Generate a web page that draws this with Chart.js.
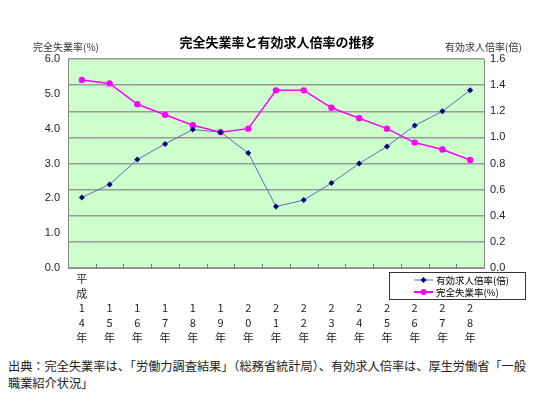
<!DOCTYPE html>
<html>
<head>
<meta charset="utf-8">
<script src="https://cdn.jsdelivr.net/npm/chart.js@4.4.1/dist/chart.umd.min.js"></script>
<style>
  body { margin: 0; background: #fff; width: 549px; height: 396px; overflow: hidden; }
  #wrap { position: relative; width: 549px; height: 350px; }
  #note { font-family: "Noto Sans CJK JP", sans-serif; font-size: 12.2px; color: #222; line-height: 17px; padding: 8px 0 0 8px; white-space: nowrap; }
</style>
</head>
<body>
<div id="wrap"><canvas id="c"></canvas></div>
<div id="note">出典：完全失業率は、「労働力調査結果」（総務省統計局）、有効求人倍率は、厚生労働省「一般<br>職業紹介状況」</div>
<script>
// data
const years = ['14', '15', '16', '17', '18', '19', '20', '21', '22', '23', '24', '25', '26', '27', '28'];
const jobRatio = [0.54, 0.64, 0.83, 0.95, 1.06, 1.04, 0.88, 0.47, 0.52, 0.65, 0.80, 0.93, 1.09, 1.20, 1.36];
const unemployment = [5.4, 5.3, 4.7, 4.4, 4.1, 3.9, 4.0, 5.1, 5.1, 4.6, 4.3, 4.0, 3.6, 3.4, 3.1];

// vertical labels, bottom aligned
const labels = years.map((y, i) => {
    const chars = y.split('').concat(['年']);
    return i === 0 ? ['平', '成'].concat(chars) : ['', ''].concat(chars);
});

const FONT = '"Noto Sans CJK JP", sans-serif';

const decor = {
    id: 'decor',
    beforeDraw(chart) {
        const a = chart.chartArea, ctx = chart.ctx;
        ctx.save();
        ctx.fillStyle = '#ccffcc';
        ctx.fillRect(a.left, a.top, a.right - a.left, a.bottom - a.top);
        ctx.restore();
    },
    afterDraw(chart) {
        const ctx = chart.ctx, a = chart.chartArea, x = chart.scales.x;
        ctx.save();
        // small ticks between categories
        ctx.strokeStyle = '#777';
        ctx.lineWidth = 1;
        for (let i = 1; i < years.length; i++) {
            const px = Math.round((x.getPixelForValue(i - 1) + x.getPixelForValue(i)) / 2) + 0.5;
            ctx.beginPath();
            ctx.moveTo(px, a.bottom);
            ctx.lineTo(px, a.bottom - 4);
            ctx.stroke();
        }
        // titles
        ctx.fillStyle = '#000';
        ctx.font = 'bold 13px ' + FONT;
        ctx.textAlign = 'center';
        ctx.textBaseline = 'middle';
        ctx.fillText('完全失業率と有効求人倍率の推移', 277, 42);
        ctx.fillStyle = '#333';
        ctx.font = '10px ' + FONT;
        ctx.textAlign = 'left';
        ctx.fillText('完全失業率(%)', 33, 47);
        ctx.fillText('有効求人倍率(倍)', 445, 47);
        // legend box
        const lx = 389, ly = 272, lw = 136, lh = 27;
        ctx.fillStyle = '#fff';
        ctx.fillRect(lx, ly, lw, lh);
        ctx.strokeStyle = '#333';
        ctx.strokeRect(lx + 0.5, ly + 0.5, lw, lh);
        const rows = [
            { text: '有効求人倍率(倍)', line: '#5b6fae', mark: '#000080', diamond: true, y: ly + 8 },
            { text: '完全失業率(%)', line: '#ff00ff', mark: '#ff00ff', diamond: false, y: ly + 20 }
        ];
        rows.forEach(r => {
            ctx.strokeStyle = r.line;
            ctx.lineWidth = r.diamond ? 1 : 2;
            ctx.beginPath();
            ctx.moveTo(lx + 25, r.y);
            ctx.lineTo(lx + 44, r.y);
            ctx.stroke();
            ctx.fillStyle = r.mark;
            ctx.beginPath();
            if (r.diamond) {
                ctx.moveTo(lx + 34.5, r.y - 3); ctx.lineTo(lx + 37.5, r.y);
                ctx.lineTo(lx + 34.5, r.y + 3); ctx.lineTo(lx + 31.5, r.y);
            } else {
                ctx.arc(lx + 34.5, r.y, 3, 0, Math.PI * 2);
            }
            ctx.fill();
            ctx.fillStyle = '#000';
            ctx.font = '9.5px ' + FONT;
            ctx.fillText(r.text, lx + 47, r.y);
        });
        ctx.restore();
    }
};

new Chart(document.getElementById('c'), {
    type: 'line',
    data: {
        labels: labels,
        datasets: [
            {
                label: '有効求人倍率(倍)',
                data: jobRatio,
                yAxisID: 'y2',
                borderColor: '#5b6fae',
                borderWidth: 1,
                pointStyle: 'rectRot',
                pointRadius: 3,
                pointBackgroundColor: '#000080',
                pointBorderColor: '#000080',
                pointBorderWidth: 0,
                tension: 0
            },
            {
                label: '完全失業率(%)',
                data: unemployment,
                yAxisID: 'y',
                borderColor: '#ff00ff',
                borderWidth: 1.5,
                pointStyle: 'circle',
                pointRadius: 3.2,
                pointBackgroundColor: '#ff00ff',
                pointBorderColor: '#ff00ff',
                pointBorderWidth: 0,
                tension: 0
            }
        ]
    },
    options: {
        responsive: true,
        maintainAspectRatio: false,
        animation: false,
        layout: { padding: { top: 59, left: 0, right: 0, bottom: 0 } },
        plugins: {
            legend: { display: false },
            tooltip: { enabled: false }
        },
        scales: {
            x: {
                offset: true,
                grid: { display: false, drawTicks: false },
                border: { color: '#888', width: 1 },
                ticks: {
                    autoSkip: false, maxRotation: 0, padding: 4,
                    color: '#222', font: { family: FONT, size: 11, lineHeight: 1.32 }
                },
                afterFit(s) { s.height = 82; }
            },
            y: {
                position: 'left',
                min: 0, max: 6,
                grid: { display: false, drawTicks: false },
                border: { color: '#888', width: 1 },
                ticks: {
                    stepSize: 1, padding: 8, color: '#222',
                    font: { family: 'Arial, "Liberation Sans", sans-serif', size: 11 },
                    callback: v => v.toFixed(1)
                },
                afterFit(s) { s.width = 68; }
            },
            y2: {
                position: 'right',
                min: 0, max: 1.6,
                grid: { color: '#999', lineWidth: 1.5, drawTicks: false },
                border: { color: '#888', width: 1 },
                ticks: {
                    stepSize: 0.2, padding: 6, color: '#222',
                    font: { family: 'Arial, "Liberation Sans", sans-serif', size: 11 },
                    callback: v => v.toFixed(1)
                },
                afterFit(s) { s.width = 65; }
            }
        }
    },
    plugins: [decor]
});
</script>
</body>
</html>
